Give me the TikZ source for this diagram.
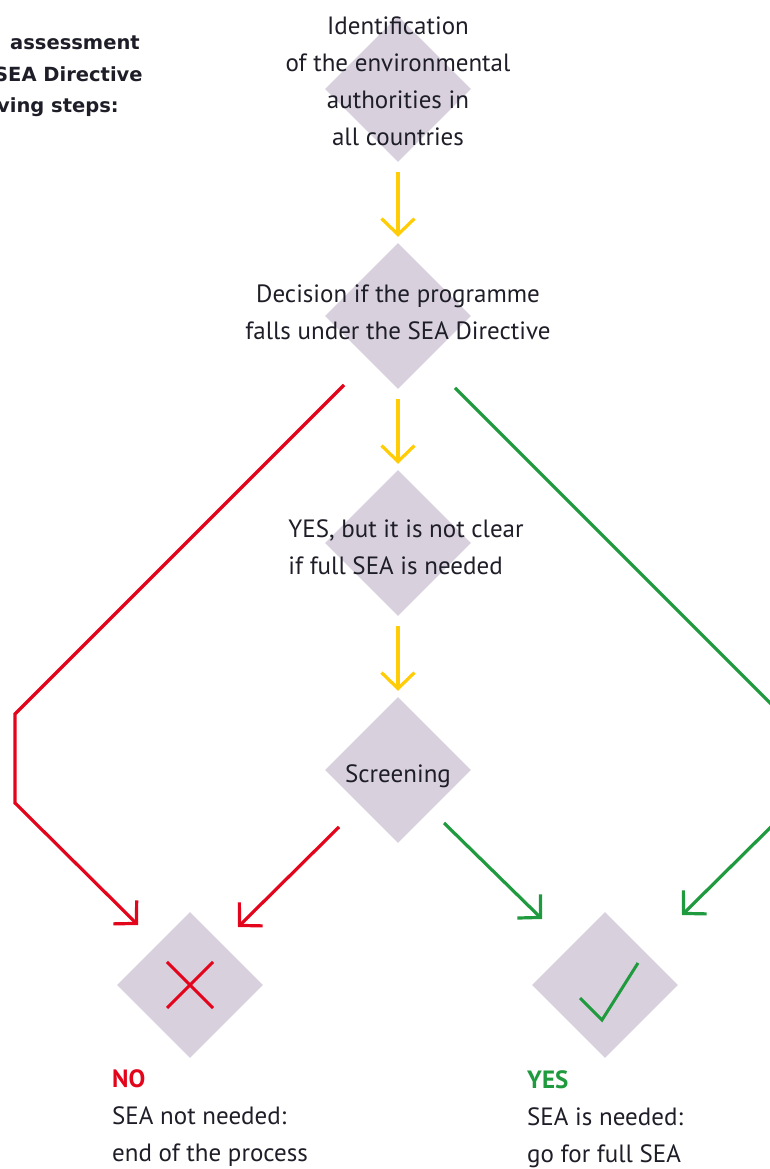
\documentclass[tikz,border=0pt]{standalone}
\usepackage{fontspec}
\setmainfont{PT Sans}
\newfontfamily\headfont{DejaVu Sans}
\usepackage{tikz}
\usetikzlibrary{shapes.geometric}
\usetikzlibrary{positioning}
\usetikzlibrary{arrows.meta}

\definecolor{stepfill}{HTML}{D9D0DE}
\definecolor{noRed}{HTML}{E3051B}
\definecolor{yesGreen}{HTML}{1F9A3E}
\definecolor{flowYellow}{HTML}{FFCC05}
\definecolor{inkText}{HTML}{1E1E28}

\begin{document}
\begin{tikzpicture}[>={Straight Barb[length=16pt,width=33pt]},x=1pt,y=1pt,
	node distance=227pt,on grid,
	step node/.style={diamond,fill=stepfill,minimum width=146pt,minimum height=146pt,inner sep=0pt},
	step text/.style={font=\fontsize{25}{37}\selectfont,text=inkText,align=center,inner sep=0pt},
	result text/.style={font=\fontsize{25}{37}\selectfont,text=inkText,align=left,inner sep=0pt,anchor=base west},
	head text/.style={font=\headfont\bfseries\fontsize{19.5}{32}\selectfont,text=inkText,inner sep=0pt,anchor=base west},
	yellow arrow/.style={flowYellow,line width=3.2pt,->,shorten <=10pt,shorten >=6pt},
	red line/.style={noRed,line width=3.2pt},
	green line/.style={yesGreen,line width=3.2pt}]
	
	\useasboundingbox (0,0) rectangle (770,1169);
	
	% heading, cut off at the left edge
	\node[head text] (headA) at (10,1119) {assessment};
	\node[head text] (headB) at (-6,1087) {SEA Directive};
	\node[head text] (headC) at (-3,1056) {ving steps:};
	
	\node[step node,label={[step text,yshift=8pt]center:{Identification\\of the environmental\\authorities in\\all countries}}] (ident) at (398,1080) {};
	\node[step node,label={[step text,yshift=4pt]center:{Decision if the programme\\falls under the SEA Directive}}] (dec) [below=of ident] {};
	\node[step node,label={[step text,align=left,xshift=8pt,yshift=-4pt]center:{YES, but it is not clear\\if full SEA is needed}}] (unclear) [below=of dec] {};
	\node[step node,label={[step text,yshift=-6pt]center:{Screening}}] (scr) [below=of unclear] {};
	\node[step node] (no) [below left=215pt and 208pt of scr] {};
	\node[step node] (yes) [below right=215pt and 207pt of scr] {};
	
	% base is the last line here
	\node[result text] (noText) at (112,7) {\textbf{\textcolor{noRed}{NO}}\\SEA not needed:\\end of the process};
	\node[result text] (yesText) at (527,6) {\textbf{\textcolor{yesGreen}{YES}}\\SEA is needed:\\go for full SEA};
	
	\draw[yellow arrow] (ident) -- (dec);
	\draw[yellow arrow] (dec) -- (unclear);
	\draw[yellow arrow] (unclear) -- (scr);
	
	\draw[red line,->] ([shift={(-54pt,-69pt)}]dec.center) -- ++(-329pt,-329pt) -- ++(0pt,-89pt) -- ([shift={(-52pt,60pt)}]no.center);
	\draw[red line,->] ([shift={(-59pt,-57pt)}]scr.center) -- ([shift={(48pt,58pt)}]no.center);
	\draw[green line,->] ([shift={(46pt,-53pt)}]scr.center) -- ([shift={(-63pt,66pt)}]yes.center);
	\draw[green line,->] ([shift={(57pt,-72pt)}]dec.center) -- ++(326pt,-326pt) -- ++(0pt,-103pt) -- ([shift={(77pt,70pt)}]yes.center);
	
	% marks
	\draw[red line,line width=3pt] ([shift={(-23pt,23pt)}]no.center) -- ([shift={(23pt,-23pt)}]no.center);
	\draw[red line,line width=3pt] ([shift={(-23pt,-23pt)}]no.center) -- ([shift={(23pt,23pt)}]no.center);
	\draw[green line,line width=3pt] ([shift={(-25pt,-13pt)}]yes.center) -- ([shift={(-3pt,-35pt)}]yes.center) -- ([shift={(33pt,22pt)}]yes.center);
\end{tikzpicture}
\end{document}
